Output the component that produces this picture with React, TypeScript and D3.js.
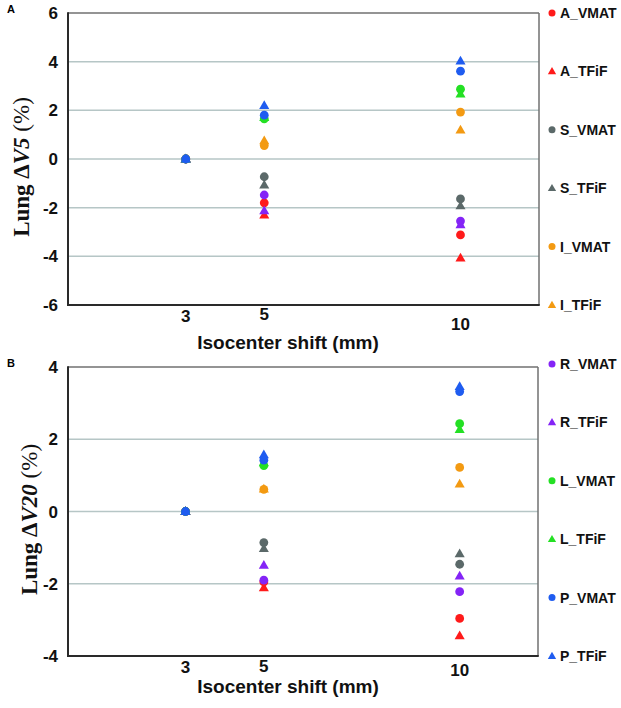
import React from "react";
import * as d3 from "d3";

// ---------- data ----------
const xTicks = [3, 5, 10];
const seriesNames = [
  "A_VMAT", "A_TFiF", "S_VMAT", "S_TFiF", "I_VMAT", "I_TFiF",
  "R_VMAT", "R_TFiF", "L_VMAT", "L_TFiF", "P_VMAT", "P_TFiF",
];
const seriesColors = [
  "#ff1a1a", "#ff1a1a", "#5b6969", "#5b6969", "#f39a12", "#f39a12",
  "#8424f6", "#8424f6", "#24e024", "#24e024", "#1f5cf0", "#1f5cf0",
];
// values at isocenter shift 3, 5, 10 mm
const v5Values = [
  [0, -1.8, -3.12],
  [0, -2.3, -4.07],
  [0, -0.73, -1.64],
  [0, -1.07, -1.93],
  [0, 0.55, 1.93],
  [0, 0.75, 1.19],
  [0, -1.48, -2.55],
  [0, -2.13, -2.71],
  [0, 1.65, 2.87],
  [0, 1.7, 2.67],
  [0, 1.8, 3.61],
  [0, 2.2, 4.02],
];
const v20Values = [
  [0, -1.95, -2.96],
  [0, -2.11, -3.44],
  [0, -0.86, -1.46],
  [0, -1.03, -1.17],
  [0, 0.61, 1.22],
  [0, 0.62, 0.76],
  [0, -1.9, -2.22],
  [0, -1.49, -1.79],
  [0, 1.27, 2.43],
  [0, 1.35, 2.27],
  [0, 1.42, 3.32],
  [0, 1.57, 3.46],
];
const v5Ticks = [-6, -4, -2, 0, 2, 4, 6];
const v20Ticks = [-4, -2, 0, 2, 4];
const legendA = ["A_VMAT", "A_TFiF", "S_VMAT", "S_TFiF", "I_VMAT", "I_TFiF"];
const legendB = ["R_VMAT", "R_TFiF", "L_VMAT", "L_TFiF", "P_VMAT", "P_TFiF"];

// ---------- style ----------
const SANS = "'Liberation Sans', Arial, sans-serif";
const SERIF = "'Liberation Serif', 'Times New Roman', serif";
const GRID = "#b6c6c6";
const xTickDy: Record<number, number> = { 3: 0, 5: -2, 10: 8 };

function marker(name: string, color: string, x: number, y: number, r: number, triSize: number, key: string) {
  if (name.endsWith("VMAT")) {
    return <circle key={key} cx={x} cy={y} r={r} fill={color} />;
  }
  const path = d3.symbol().type(d3.symbolTriangle).size(triSize)()!;
  return <path key={key} d={path} transform={`translate(${x},${y + 0.5})`} fill={color} />;
}

type PanelProps = {
  label: string;
  top: number;
  bottom: number;
  right: number;
  yDomain: [number, number];
  yTicks: number[];
  values: number[][];
  metric: string;
  yTitleX: number;
  xTitleY: number;
  legend: string[];
  legendTop: number;
  tickDyScale: number;
};

function Panel(p: PanelProps) {
  const left = 68;
  const x = d3.scaleLinear().domain([0, 12]).range([left, p.right]);
  const y = d3.scaleLinear().domain(p.yDomain).range([p.bottom, p.top]);
  const ly = d3.scalePoint<string>().domain(p.legend).range([p.legendTop, p.bottom]);
  const yMid = (p.top + p.bottom) / 2 + 8;
  return (
    <g>
      <text x={7} y={p.top - 0} fontFamily={SANS} fontWeight={700} fontSize={11}>{p.label}</text>
      {/* grid */}
      {p.yTicks.filter((t) => t !== p.yDomain[0] && t !== p.yDomain[1]).map((t) => (
        <line key={"g" + t} x1={left} x2={p.right} y1={y(t)} y2={y(t)} stroke={GRID} strokeWidth={1.5} />
      ))}
      {/* frame */}
      <line x1={left} x2={p.right} y1={p.top} y2={p.top} stroke="#707070" strokeWidth={1.5} />
      <line x1={p.right} x2={p.right} y1={p.top} y2={p.bottom} stroke="#707070" strokeWidth={1.5} />
      <line x1={left} x2={left} y1={p.top - 0.75} y2={p.bottom + 1} stroke="#2a2a2a" strokeWidth={2} />
      <line x1={left} x2={p.right + 0.75} y1={p.bottom} y2={p.bottom} stroke="#2a2a2a" strokeWidth={2} />
      {/* y ticks */}
      {p.yTicks.map((t) => (
        <text key={"yt" + t} x={58} y={y(t) + 6} textAnchor="end" fontFamily={SANS} fontWeight={700} fontSize={17} fill="#111">
          {t}
        </text>
      ))}
      {/* x ticks */}
      {xTicks.map((t) => (
        <text key={"xt" + t} x={x(t)} y={p.bottom + 17 + xTickDy[t] * p.tickDyScale} textAnchor="middle" fontFamily={SANS} fontWeight={700} fontSize={17} fill="#111">
          {t}
        </text>
      ))}
      {/* titles */}
      <text x={288} y={p.xTitleY} textAnchor="middle" fontFamily={SANS} fontWeight={700} fontSize={19} fill="#111">
        Isocenter shift (mm)
      </text>
      <text transform={`translate(${p.yTitleX},${yMid}) rotate(-90)`} textAnchor="middle" fontFamily={SERIF} fontSize={23} fill="#111">
        <tspan fontWeight={700}>Lung </tspan>
        <tspan fontWeight={700}>Δ</tspan>
        <tspan fontWeight={700} fontStyle="italic">{p.metric}</tspan>
        <tspan> (%)</tspan>
      </text>
      {/* points */}
      {seriesNames.map((name, si) =>
        p.values[si].map((v, i) => marker(name, seriesColors[si], x(xTicks[i]), y(v), 4.4, 44, name + i))
      )}
      {/* legend */}
      {p.legend.map((name) => {
        const si = seriesNames.indexOf(name);
        const yy = ly(name)!;
        return (
          <g key={"lg" + name}>
            {marker(name, seriesColors[si], 552, yy, 3.5, 30, "lm" + name)}
            <text x={560} y={yy + 5} fontFamily={SANS} fontWeight={700} fontSize={14} fill="#111">
              {name}
            </text>
          </g>
        );
      })}
    </g>
  );
}

export default function App() {
  return (
    <div style={{ position: "absolute", left: 0, top: 0 }}>
      <svg width={621} height={708} style={{ display: "block", background: "#fff" }}>
        <Panel
          label="A"
          top={13}
          bottom={305}
          right={539}
          yDomain={[-6, 6]}
          yTicks={v5Ticks}
          values={v5Values}
          metric="V5"
          yTitleX={29}
          xTitleY={349}
          legend={legendA}
          legendTop={13}
          tickDyScale={1}
        />
        <Panel
          label="B"
          top={367}
          bottom={656}
          right={538}
          yDomain={[-4, 4]}
          yTicks={v20Ticks}
          values={v20Values}
          metric="V20"
          yTitleX={37}
          xTitleY={693}
          legend={legendB}
          legendTop={364}
          tickDyScale={0.4}
        />
      </svg>
    </div>
  );
}
